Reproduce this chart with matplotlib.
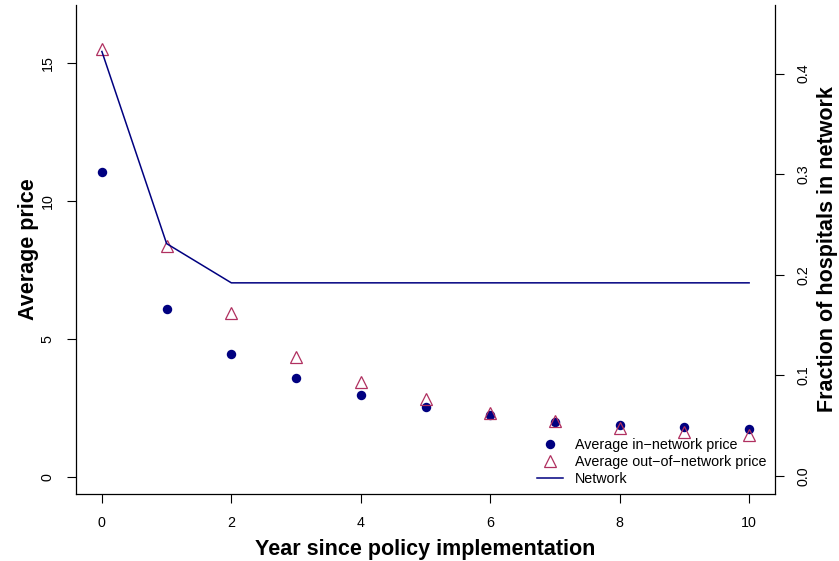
import matplotlib
matplotlib.use("Agg")
import matplotlib.pyplot as plt
from matplotlib.lines import Line2D

plt.rcParams['font.family'] = ['Liberation Sans', 'DejaVu Sans']

years = [0, 1, 2, 3, 4, 5, 6, 7, 8, 9, 10]
in_network_price = [11.04, 6.08, 4.46, 3.59, 2.97, 2.55, 2.25, 2.00, 1.88, 1.82, 1.74]
out_network_price = [15.50, 8.37, 5.93, 4.35, 3.45, 2.82, 2.33, 2.04, 1.76, 1.64, 1.52]
network_fraction = [0.422, 0.231, 0.192, 0.192, 0.192, 0.192, 0.192, 0.192, 0.192, 0.192, 0.192]

x_ticks = [0, 2, 4, 6, 8, 10]
left_ticks = [0, 5, 10, 15]
right_ticks = [0.0, 0.1, 0.2, 0.3, 0.4]
right_tick_labels = ["0.0", "0.1", "0.2", "0.3", "0.4"]

W, H = 839, 561
fig = plt.figure(figsize=(W / 100, H / 100), dpi=100)
L, R, T, B = 76, 775, 5, 494
ax = fig.add_axes([L / W, 1 - B / H, (R - L) / W, (B - T) / H])

navy = '#000080'
maroon = '#B03060'
tick_fs = 10.3

ax.plot(years, in_network_price, linestyle='none', marker='o', markersize=6.8,
        color=navy, markeredgewidth=0, zorder=3)
ax.plot(years, out_network_price, linestyle='none', marker='^', markersize=8.2,
        markerfacecolor='none', markeredgecolor=maroon, markeredgewidth=0.9, zorder=4)

ax.set_xlim(-0.4, 10.4)
ax.set_ylim(-0.616, 17.10)
ax.set_xticks(x_ticks)
ax.set_yticks(left_ticks)
ax.tick_params(axis='both', direction='out', length=6.5, width=0.8, pad=9,
               labelsize=tick_fs)
ax.tick_params(axis='y', labelrotation=90)
for lab in ax.get_yticklabels():
    lab.set_va('center')
ax.spines['top'].set_visible(False)
ax.spines['right'].set_visible(False)
for s in ['left', 'bottom']:
    ax.spines[s].set_linewidth(0.9)

ax.set_xlabel('Year since policy implementation', fontsize=15.5, fontweight='bold', labelpad=7)
ax.set_ylabel('Average price', fontsize=15.5, fontweight='bold', labelpad=1)

ax2 = ax.twinx()
ax2.plot(years, network_fraction, color=navy, linewidth=1.1, zorder=2)
ax2.set_ylim(-0.0179, 0.4682)
ax2.set_yticks(right_ticks)
ax2.set_yticklabels(right_tick_labels)
ax2.tick_params(axis='y', direction='out', length=6.5, width=0.8, pad=9,
                labelsize=tick_fs, labelrotation=90)
for lab in ax2.get_yticklabels():
    lab.set_va('center')
for s in ['top', 'left', 'bottom']:
    ax2.spines[s].set_visible(False)
ax2.spines['right'].set_linewidth(0.9)
ax2.set_ylabel('Fraction of hospitals in network', fontsize=15.5, fontweight='bold',
               rotation=90, labelpad=5)

handles = [
    Line2D([], [], linestyle='none', marker='o', markersize=6.8, color=navy, markeredgewidth=0),
    Line2D([], [], linestyle='none', marker='^', markersize=8.2, markerfacecolor='none',
           markeredgecolor=maroon, markeredgewidth=0.9),
    Line2D([], [], color=navy, linewidth=1.1),
]
labels = ['Average in\u2212network price', 'Average out\u2212of\u2212network price', 'Network']
leg = ax2.legend(handles, labels, loc='lower left', frameon=False, fontsize=tick_fs,
                 bbox_to_anchor=(537 / W, 1 - 486 / H), bbox_transform=fig.transFigure,
                 borderpad=0, borderaxespad=0, handlelength=1.85, handletextpad=0.8,
                 labelspacing=0.22)

fig.savefig('out.png', dpi=100)
